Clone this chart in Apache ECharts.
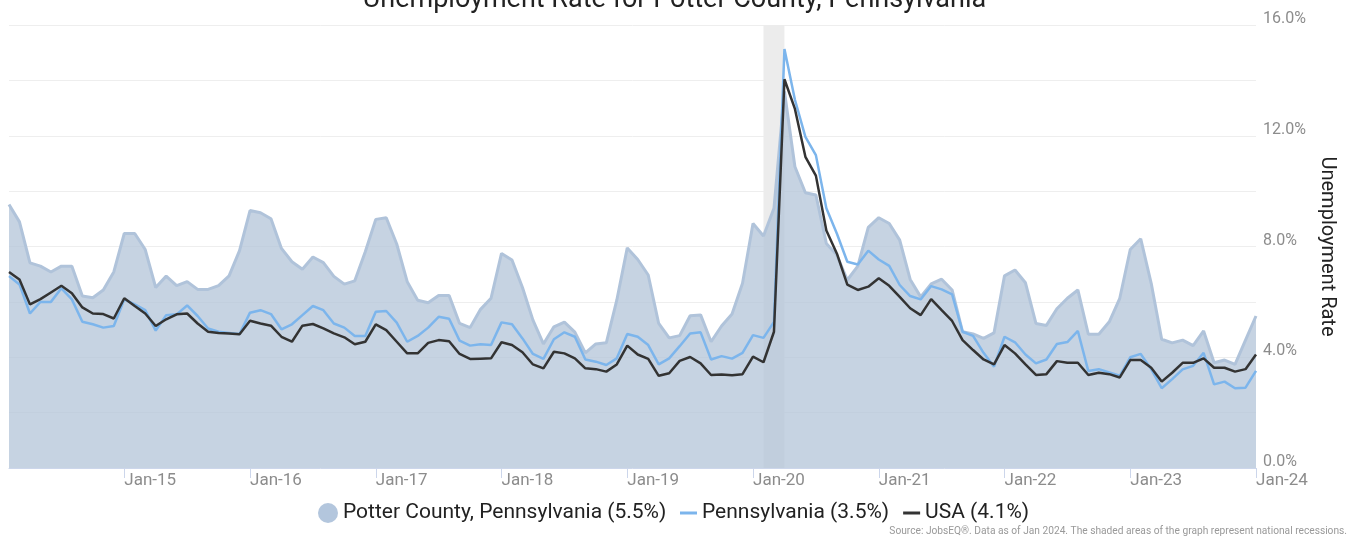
<!DOCTYPE html>
<html><head><meta charset="utf-8">
<script src="https://cdn.jsdelivr.net/npm/echarts@6/dist/echarts.min.js"></script>
<style>html,body{margin:0;padding:0;background:#fff}#c{width:1349px;height:538px}</style>
</head><body><div id="c"></div>
<script>
// Monthly categories Feb-14 .. Jan-24
const monthNames = ['Jan','Feb','Mar','Apr','May','Jun','Jul','Aug','Sep','Oct','Nov','Dec'];
const categories = [];
for (let k = 0; k < 120; k++) {
  const m = (1 + k) % 12;
  const y = 14 + Math.floor((1 + k) / 12);
  categories.push(monthNames[m] + '-' + String(y).padStart(2, '0'));
}

const potter = [
  9.52, 8.89, 7.41, 7.29, 7.08, 7.29, 7.29, 6.21, 6.15, 6.43, 7.08, 8.47,
  8.47, 7.89, 6.52, 6.93, 6.59, 6.73, 6.45, 6.45, 6.59, 6.94, 7.85, 9.30,
  9.22, 9.00, 7.93, 7.45, 7.18, 7.62, 7.42, 6.92, 6.64, 6.76, 7.81, 8.98,
  9.04, 8.09, 6.73, 6.06, 5.97, 6.23, 6.23, 5.22, 5.07, 5.73, 6.13, 7.75,
  7.51, 6.52, 5.34, 4.48, 5.10, 5.27, 4.91, 4.16, 4.48, 4.52, 6.06, 7.95,
  7.53, 6.97, 5.22, 4.70, 4.78, 5.50, 5.53, 4.56, 5.13, 5.56, 6.67, 8.83,
  8.38, 9.38, 13.6, 10.88, 9.94, 9.86, 8.11, 7.69, 6.79, 7.29, 8.69, 9.04,
  8.83, 8.23, 6.81, 6.18, 6.65, 6.82, 6.43, 4.92, 4.84, 4.68, 4.88, 6.94,
  7.15, 6.69, 5.22, 5.15, 5.75, 6.13, 6.43, 4.83, 4.83, 5.28, 6.13, 7.89,
  8.28, 6.67, 4.65, 4.52, 4.62, 4.42, 4.95, 3.80, 3.90, 3.74, 4.62, 5.49
];
const pennsylvania = [
  6.93, 6.63, 5.58, 6.00, 6.00, 6.49, 6.09, 5.28, 5.19, 5.07, 5.13, 6.09,
  5.91, 5.70, 4.96, 5.52, 5.55, 5.87, 5.49, 5.04, 4.92, 4.88, 4.84, 5.61,
  5.70, 5.56, 5.01, 5.19, 5.52, 5.85, 5.70, 5.22, 5.07, 4.77, 4.77, 5.64,
  5.67, 5.25, 4.56, 4.77, 5.07, 5.46, 5.39, 4.60, 4.42, 4.47, 4.44, 5.26,
  5.19, 4.68, 4.12, 3.94, 4.65, 4.90, 4.74, 3.92, 3.84, 3.72, 3.96, 4.84,
  4.74, 4.44, 3.74, 3.96, 4.40, 4.86, 4.90, 3.92, 4.04, 3.95, 4.16, 4.80,
  4.70, 5.28, 15.13, 13.30, 11.96, 11.30, 9.38, 8.47, 7.45, 7.35, 7.85, 7.53,
  7.30, 6.61, 6.21, 6.09, 6.57, 6.45, 6.27, 4.92, 4.77, 4.16, 3.66, 4.74,
  4.54, 4.10, 3.78, 3.92, 4.48, 4.55, 4.95, 3.50, 3.57, 3.45, 3.33, 4.00,
  4.12, 3.57, 2.88, 3.21, 3.56, 3.69, 4.16, 3.02, 3.12, 2.88, 2.90, 3.51
];
const usa = [
  7.08, 6.81, 5.91, 6.10, 6.34, 6.58, 6.31, 5.80, 5.58, 5.56, 5.40, 6.13,
  5.85, 5.58, 5.13, 5.37, 5.55, 5.58, 5.22, 4.92, 4.88, 4.86, 4.83, 5.32,
  5.22, 5.14, 4.74, 4.56, 5.14, 5.20, 5.04, 4.86, 4.72, 4.47, 4.56, 5.19,
  4.98, 4.56, 4.14, 4.14, 4.52, 4.62, 4.58, 4.12, 3.94, 3.95, 3.96, 4.54,
  4.44, 4.18, 3.74, 3.60, 4.20, 4.14, 3.96, 3.60, 3.57, 3.48, 3.74, 4.42,
  4.10, 3.94, 3.33, 3.42, 3.87, 4.01, 3.78, 3.36, 3.38, 3.35, 3.39, 4.02,
  3.82, 4.92, 14.04, 12.97, 11.24, 10.56, 8.58, 7.75, 6.62, 6.43, 6.55, 6.85,
  6.58, 6.18, 5.77, 5.52, 6.10, 5.70, 5.31, 4.62, 4.26, 3.92, 3.74, 4.44,
  4.14, 3.74, 3.36, 3.39, 3.86, 3.80, 3.80, 3.36, 3.44, 3.39, 3.27, 3.90,
  3.90, 3.62, 3.12, 3.44, 3.80, 3.80, 3.96, 3.62, 3.62, 3.48, 3.57, 4.10
];
const recession = ['Feb-20', 'Apr-20'];
const seriesNames = ['Potter County, Pennsylvania (5.5%)', 'Pennsylvania (3.5%)', 'USA (4.1%)'];
const yTicks = [0, 4, 8, 12, 16];

const FONT = 'Roboto, "Noto Sans", sans-serif';
const isJan = (i, v) => String(v).indexOf('Jan') === 0;

const chart = echarts.init(document.getElementById('c'), null, {renderer: 'canvas'});
chart.setOption({
  animation: false,
  backgroundColor: '#ffffff',
  textStyle: {fontFamily: FONT},
  title: {
    text: 'Unemployment Rate for Potter County, Pennsylvania',
    left: 'center', top: -18,
    textStyle: {fontSize: 27, fontWeight: 'normal', color: '#222222', fontFamily: FONT}
  },
  grid: {left: 9, right: 93, top: 25, bottom: 70, containLabel: false},
  legend: [
    {
      data: [{name: seriesNames[0], icon: 'circle'}],
      left: 313, top: 497, itemWidth: 20, itemHeight: 20, itemGap: 15,
      itemStyle: {borderWidth: 0},
      textStyle: {fontSize: 21, color: '#222222', fontFamily: FONT, lineHeight: 22}
    },
    {
      data: [{name: seriesNames[1], icon: 'rect'}, {name: seriesNames[2], icon: 'rect'}],
      left: 675, top: 497, itemWidth: 17, itemHeight: 3, itemGap: 14,
      itemStyle: {borderWidth: 0},
      textStyle: {fontSize: 21, color: '#222222', fontFamily: FONT, lineHeight: 22}
    }
  ],
  xAxis: {
    type: 'category', data: categories, boundaryGap: false,
    axisLine: {show: true, lineStyle: {color: '#ccd6eb'}},
    axisTick: {show: true, interval: isJan, length: 10, lineStyle: {color: '#ccd6eb'}},
    axisLabel: {interval: isJan, align: 'left', color: '#8c8c8c', fontSize: 17, margin: 4, fontFamily: FONT},
    splitLine: {show: false}
  },
  yAxis: {
    type: 'value', position: 'right', min: 0, max: 16, interval: 2,
    axisLine: {show: false}, axisTick: {show: false},
    axisLabel: {
      formatter: v => yTicks.indexOf(v) >= 0 ? v.toFixed(1) + '%' : '',
      color: '#8c8c8c', fontSize: 16, margin: 7, align: 'left',
      verticalAlign: 'bottom', lineHeight: 12, fontFamily: FONT
    },
    splitLine: {lineStyle: {color: '#eeeeee', width: 1}},
    name: 'Unemployment Rate', nameLocation: 'middle', nameRotate: -90, nameGap: 58,
    nameTextStyle: {fontSize: 20, color: '#222222', fontFamily: FONT}
  },
  series: [
    {
      name: 'recession', type: 'line', data: [], z: 0, silent: true,
      markArea: {silent: true, itemStyle: {color: '#ececec'},
        data: [[{xAxis: recession[0]}, {xAxis: recession[1]}]]}
    },
    {
      name: seriesNames[0], type: 'line', data: potter, symbol: 'none', z: 1,
      itemStyle: {color: '#b3c6dd'},
      lineStyle: {color: '#b0c3da', width: 3},
      areaStyle: {color: '#b3c4d8', opacity: 0.75}
    },
    {
      name: seriesNames[1], type: 'line', data: pennsylvania, symbol: 'none', z: 3,
      itemStyle: {color: '#7cb5ec'},
      lineStyle: {color: '#7cb5ec', width: 2.5}
    },
    {
      name: seriesNames[2], type: 'line', data: usa, symbol: 'none', z: 4,
      itemStyle: {color: '#333333'},
      lineStyle: {color: '#333333', width: 2.5}
    }
  ],
  graphic: [{
    type: 'text', right: 2, top: 526,
    style: {
      text: 'Source: JobsEQ®. Data as of Jan 2024. The shaded areas of the graph represent national recessions.',
      fontSize: 10.2, fill: '#999999', fontFamily: FONT
    }
  }]
});
</script>
</body></html>
